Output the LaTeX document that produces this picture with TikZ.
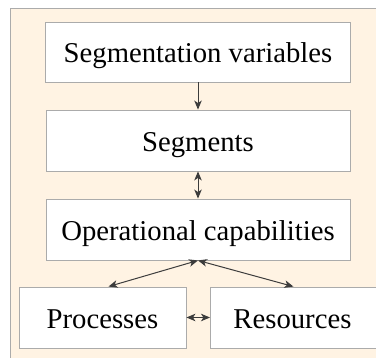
\documentclass[tikz,border=0pt]{standalone}
\usepackage{fontspec}
\setmainfont{Liberation Serif}
\usetikzlibrary{arrows.meta}
\definecolor{panel}{HTML}{FFF3E3}
\definecolor{edgegray}{HTML}{ABABAB}
\definecolor{linkgray}{HTML}{3C3C3C}
\begin{document}
\begin{tikzpicture}[x=1pt,y=-1pt,
  stepbox/.style={draw=edgegray, line width=0.9pt, fill=white, inner sep=0pt,
    text height=22pt, text depth=0pt,
    font=\rmfamily\fontsize{28.7}{32}\selectfont, text=black},
  link/.style={draw=linkgray, line width=1pt, -{Stealth[length=9pt,width=7.5pt,inset=2.5pt]}},
  dlink/.style={draw=linkgray, line width=1pt,
    {Stealth[length=9pt,width=7.5pt,inset=2.5pt]}-{Stealth[length=9pt,width=7.5pt,inset=2.5pt]}}]
  \useasboundingbox (0,0) rectangle (376,358);
  % panel behind the boxes
  \fill[panel] (10,8) rectangle (380,362);
  \draw[edgegray, line width=0.9pt] (10,362) -- (10,8) -- (380,8);
  % boxes
  \node[stepbox, minimum width=305pt, minimum height=60pt] (vars) at (198,52) {Segmentation variables};
  \node[stepbox, minimum width=304pt, minimum height=61pt] (segs) at (198,140.5) {Segments};
  \node[stepbox, minimum width=304pt, minimum height=61pt] (ops) at (198,229.5) {Operational capabilities};
  \node[stepbox, minimum width=167pt, minimum height=61pt] (proc) at (102.5,317.5) {Processes};
  \node[stepbox, minimum width=168pt, minimum height=61pt, anchor=west] (res) at (210,317.5) {\hspace*{-2pt}Resources\hspace*{2pt}};
  % connectors
  \draw[link] (vars) -- (segs);
  \draw[dlink] (segs) -- (ops);
  \draw[dlink] (ops.south) -- ([xshift=6pt]proc.north);
  \draw[dlink] (ops.south) -- ([xshift=-1pt]res.north);
  \draw[dlink] (proc) -- (res);
\end{tikzpicture}
\end{document}
